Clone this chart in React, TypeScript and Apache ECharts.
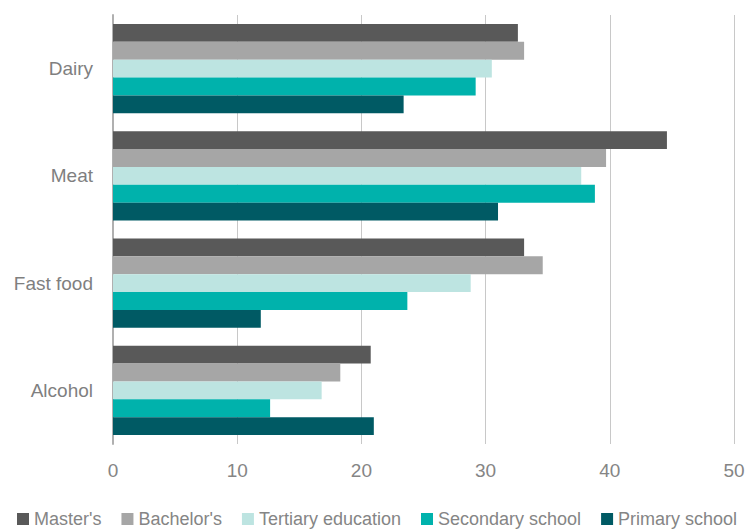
import React, { useEffect, useRef } from "react";
import * as echarts from "echarts";

const categories = ["Dairy", "Meat", "Fast food", "Alcohol"];
const seriesNames = ["Master's", "Bachelor's", "Tertiary education", "Secondary school", "Primary school"];
const masters = [32.6, 44.6, 33.1, 20.75];
const bachelors = [33.1, 39.7, 34.6, 18.3];
const tertiary = [30.5, 37.7, 28.8, 16.8];
const secondary = [29.2, 38.8, 23.7, 12.65];
const primary = [23.4, 31.0, 11.9, 21.0];
const colors = ["#595959", "#a6a6a6", "#bde4e1", "#00b2ac", "#005a64"];
const xTicks = { min: 0, max: 50, interval: 10 };

export default function App() {
  const ref = useRef<HTMLDivElement>(null);
  useEffect(() => {
    if (!ref.current) return;
    const chart = echarts.init(ref.current, null, { renderer: "svg" });
    const values = [masters, bachelors, tertiary, secondary, primary];
    const font = "'Liberation Sans', Arial, sans-serif";
    chart.setOption({
      animation: false,
      textStyle: { fontFamily: font },
      grid: { left: 113, right: 15, top: 15, bottom: 85, containLabel: false },
      legend: {
        left: 17,
        top: 510,
        padding: 0,
        itemWidth: 12,
        itemHeight: 12,
        itemGap: 20,
        icon: "rect",
        textStyle: { fontSize: 18, color: "#858585", fontFamily: font },
        data: seriesNames,
      },
      xAxis: {
        type: "value",
        min: xTicks.min,
        max: xTicks.max,
        interval: xTicks.interval,
        axisLine: { show: false },
        axisTick: { show: false },
        splitLine: { show: true, lineStyle: { color: "#c8c8c8", width: 1 } },
        axisLabel: { fontSize: 19, color: "#858585", margin: 17, fontFamily: font },
      },
      yAxis: {
        type: "category",
        data: categories,
        inverse: true,
        axisLine: { show: true, lineStyle: { color: "#b0b0b0", width: 2 } },
        axisTick: { show: false },
        axisLabel: { fontSize: 19, color: "#7f7f7f", margin: 20, fontFamily: font },
      },
      series: seriesNames.map((name, i) => ({
        name,
        type: "bar",
        data: values[i],
        barGap: "0%",
        barCategoryGap: "16.8%",
        itemStyle: { color: colors[i] },
      })),
    });
    return () => chart.dispose();
  }, []);
  return <div ref={ref} style={{ width: 749, height: 529, position: "absolute", left: 0, top: 0 }} />;
}
